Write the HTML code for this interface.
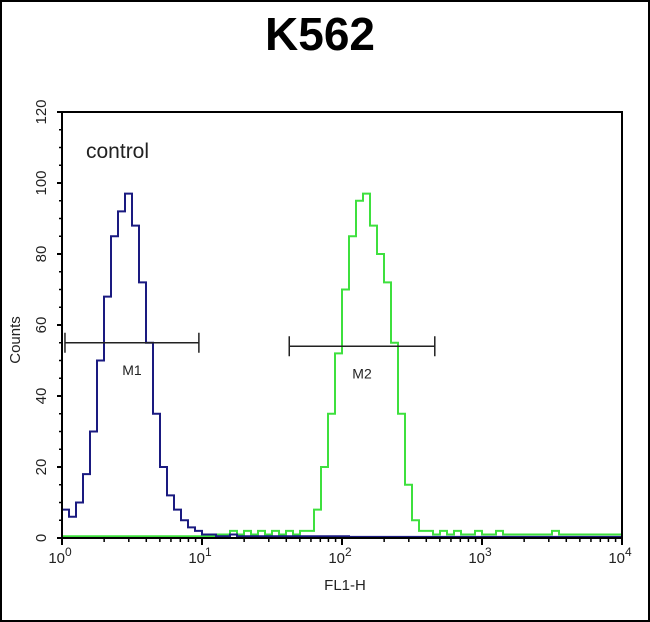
<!DOCTYPE html>
<html><head><meta charset="utf-8"><style>
body{margin:0;background:#fff}
svg{display:block;font-family:"Liberation Sans",sans-serif}
</style></head><body>
<svg width="650" height="622">
<rect x="1" y="1" width="648" height="620" fill="#fff" stroke="#000" stroke-width="2"/>
<text x="320" y="50" font-size="46" font-weight="bold" text-anchor="middle">K562</text>
<g id="plot"></g>
</svg>
<script>
const yTicks=[0,20,40,60,80,100,120];
const xDecades=[0,1,2,3,4];
const binStart=0, binStep=0.05;
const controlCounts=[8,6,10,18,30,50,68,85,92,97,88,72,55,35,20,12,8,5,3,2,1,1,0.5,0.5,1,0.5,0.5,0.5,0.5,0.5,0.5,0.5,0.5,0.5,0.5,0.5,0.5,0.5,0.5,0.5,0.5,0.3,0.3,0.3,0.3,0.3,0.3,0.3,0.3,0.3,0.3,0.3,0.3,0.3,0.3,0.3,0.3,0.3,0.3,0.3,0.3,0.3,0.3,0.3,0.3,0.3,0.3,0.3,0.3,0.3,0.3,0.3,0.3,0.3,0.3,0.3,0.3,0.3,0.3,0.3];
const sampleCounts=[0.5,0.5,0.5,0.5,0.5,0.5,0.5,0.5,0.5,0.5,0.5,0.5,0.5,0.5,0.5,0.5,0.5,0.5,0.5,0.5,0.5,0.5,1,1,2,1,2,1,2,1,2,1,2,1,2,2,8,20,35,52,70,85,95,97,88,80,72,55,35,15,5,2,2,1,2,1,2,1,1,2,1,1,2,1,1,1,1,1,1,1,2,1,1,1,1,1,1,1,1,1];
const markers=[{label:"M1",from:1.05,to:9.5,y:55},{label:"M2",from:42,to:460,y:54}];
const X0=62,X1=622,Y0=538,YT=112;
const xs=v=>X0+(X1-X0)*v/4;
const xl=v=>xs(Math.log10(v));
const ys=v=>Y0-(Y0-YT)*v/120;
const NS='http://www.w3.org/2000/svg';
const g=document.getElementById('plot');
function mk(t,a,txt){const e=document.createElementNS(NS,t);for(const k in a)e.setAttribute(k,a[k]);if(txt!=null)e.textContent=txt;g.appendChild(e);return e;}
function hist(arr,color,name){let d='';arr.forEach((v,i)=>{const x0=xs(binStart+i*binStep),x1=xs(binStart+(i+1)*binStep),y=ys(v);d+=(i?'L':'M')+x0+','+y+'L'+x1+','+y;});
const p=mk('path',{d:d,fill:'none',stroke:color,'stroke-width':2});

}
hist(sampleCounts,'#3ee03e','sample-histogram');
hist(controlCounts,'#1a1a80','control-histogram');
const fr=mk('rect',{x:X0,y:YT,width:X1-X0,height:Y0-YT,fill:'none',stroke:'#000','stroke-width':2});


yTicks.forEach(t=>{const y=ys(t);
const l=mk('line',{x1:X0-5,x2:X0,y1:y,y2:y,stroke:'#000','stroke-width':2});


const tx=mk('text',{x:0,y:0,transform:`translate(46,${y}) rotate(-90)`,'font-size':15,'text-anchor':'middle',fill:'#222'},String(t));


});
for(let t=5;t<120;t+=5){if(t%20===0)continue;const y=ys(t);const l=mk('line',{x1:X0-3,x2:X0,y1:y,y2:y,stroke:'#000','stroke-width':1.5});

}
xDecades.forEach(d=>{const x=xs(d);
const l=mk('line',{x1:x,x2:x,y1:Y0,y2:Y0+7,stroke:'#000','stroke-width':2});


const tx=mk('text',{x:x-2,y:Y0+25,'font-size':15,'text-anchor':'middle',fill:'#222'});


tx.innerHTML='10<tspan dy="-7" font-size="12">'+d+'</tspan>';
if(d<4)for(let m=2;m<10;m++){const xm=xs(d+Math.log10(m));const lm=mk('line',{x1:xm,x2:xm,y1:Y0,y2:Y0+4,stroke:'#000','stroke-width':1.5});

}
});
markers.forEach(m=>{const a=xl(m.from),b=xl(m.to),y=ys(m.y);
const p=mk('path',{d:`M${a},${y}H${b}M${a},${y-10}V${y+10}M${b},${y-10}V${y+10}`,stroke:'#222','stroke-width':1.5,fill:'none'});


const t=mk('text',{x:(a+b)/2,y:y+32,'font-size':14,'text-anchor':'middle',fill:'#222'},m.label);


});
const c=mk('text',{x:86,y:158,'font-size':21,fill:'#222'},'control');


const xt=mk('text',{x:345,y:590,'font-size':15,'text-anchor':'middle',fill:'#222'},'FL1-H');


const yt=mk('text',{x:0,y:0,transform:'translate(20,340) rotate(-90)','font-size':15,'text-anchor':'middle',fill:'#222'},'Counts');


</script>
</body></html>
